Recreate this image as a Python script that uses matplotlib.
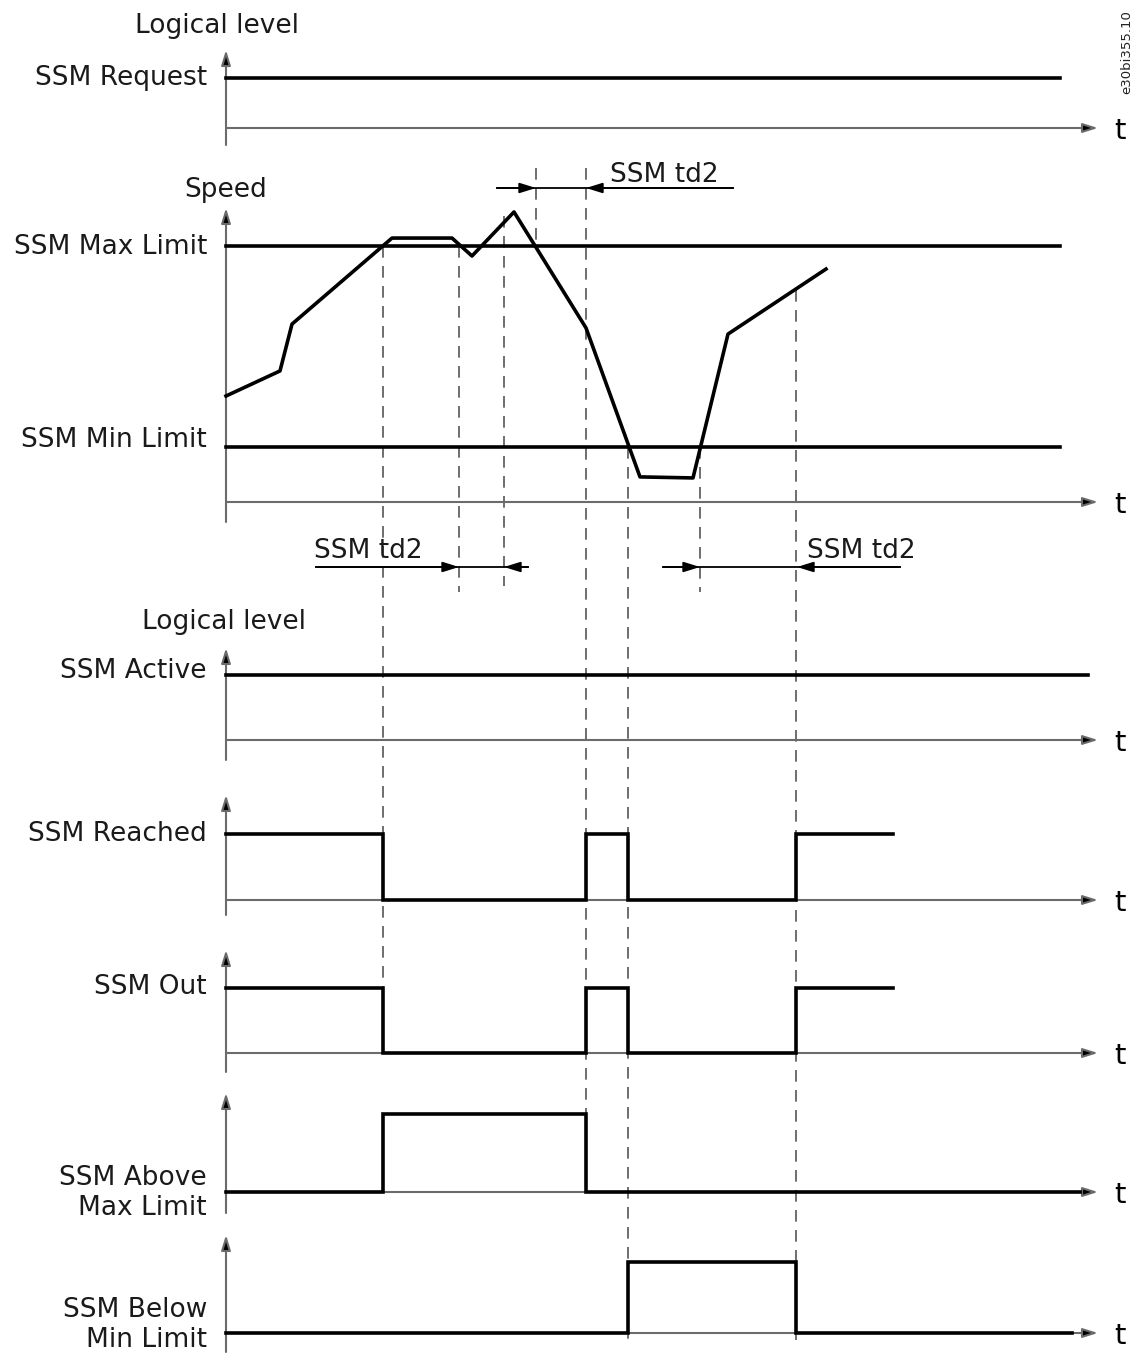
import numpy as np
import matplotlib
matplotlib.use("Agg")
import matplotlib.pyplot as plt

# ===== DATA =====
# time axis runs left->right, in drawing units (the diagram's own scale)
t_start = 226
t_end_axis = 1098

# speed profile (speed units: t-axis = 0, max limit = 100)
speed_t = [226, 280, 292, 392, 452, 472, 514, 586, 640, 693, 728, 826]
speed_v = [41.4, 51.2, 69.5, 103.1, 103.1, 96.1, 113.3, 68.0, 9.8, 9.4, 65.6, 91.0]
max_limit = 100.0
min_limit = 21.5

# logical signals as step edges (time, level after edge)
request_t = [226, 1060]
request_v = [1, 1]
active_t = [226, 1088]
active_v = [1, 1]
reached_t = [226, 383, 586, 628, 796, 893]
reached_v = [1, 0, 1, 0, 1, 1]
out_t = [226, 383, 586, 628, 796, 893]
out_v = [1, 0, 1, 0, 1, 1]
above_t = [226, 383, 586, 1080]
above_v = [0, 1, 0, 0]
below_t = [226, 628, 796, 1072]
below_v = [0, 1, 0, 0]

# event markers: (time, top, bottom)
dashed_marks = [(383, 246, 1050), (459, 246, 592), (504, 216, 586),
                (536, 168, 248), (586, 168, 1192), (628, 447, 1340),
                (700, 447, 592), (796, 290, 1340)]

# ===== STYLE =====
fontname = "DejaVu Sans"
fs = 19
axis_col = "#6b6b6b"
sig_lw = 2.6

fig = plt.figure(figsize=(11.4, 13.54), dpi=100)
ax = fig.add_axes([0, 0, 1, 1])
ax.set_xlim(0, 1140)
ax.set_ylim(1354, 0)
ax.axis("off")


def arrow(x0, y0, x1, y1, lw=1.5, col=axis_col, head=1.0, z=2):
    ax.annotate("", xy=(x1, y1), xytext=(x0, y0),
                arrowprops=dict(arrowstyle=f"-|>,head_length={0.9*head},head_width={0.28*head}",
                                color=col, lw=lw, shrinkA=0, shrinkB=0,
                                fc="black", ec=col), zorder=z)


def axes_frame(y_top, y_bot, y_t, label_t=True):
    arrow(t_start, y_bot, t_start, y_top)
    arrow(t_start, y_t, t_end_axis, y_t)
    if label_t:
        ax.text(1120, y_t + 3, "t", fontsize=fs + 2, ha="center", va="center", fontname=fontname)


def logic_panel(t, v, y_t, y_high, y_top, y_bot):
    axes_frame(y_top, y_bot, y_t)
    ys = [y_t - (y_t - y_high) * lv for lv in v]
    ax.step(t, ys, where="post", color="black", lw=sig_lw, solid_joinstyle="miter", zorder=5)


def lab(x, y, s, ha="right"):
    ax.text(x, y, s, fontsize=fs, ha=ha, va="center", fontname=fontname,
            color="#1a1a1a", linespacing=1.2)


# panel 1: SSM Request
lab(217, 26, "Logical level", ha="center")
logic_panel(request_t, request_v, 128, 78, 50, 145)
lab(207, 78, "SSM Request")

# panel 2: speed
y0_speed = 502
k_speed = (502 - 246) / max_limit
axes_frame(208, 522, y0_speed)
lab(226, 190, "Speed", ha="center")
ax.plot([t_start, 1060], [y0_speed - k_speed * max_limit] * 2, color="black", lw=sig_lw, zorder=5)
ax.plot([t_start, 1060], [y0_speed - k_speed * min_limit] * 2, color="black", lw=sig_lw, zorder=5)
ax.plot(speed_t, [y0_speed - k_speed * v for v in speed_v], color="black", lw=sig_lw, zorder=5)
lab(207, 247, "SSM Max Limit")
lab(207, 440, "SSM Min Limit")

# panel 3..7
lab(224, 622, "Logical level", ha="center")
logic_panel(active_t, active_v, 740, 675, 648, 760)
lab(207, 671, "SSM Active")
logic_panel(reached_t, reached_v, 900, 834, 795, 915)
lab(207, 834, "SSM Reached")
logic_panel(out_t, out_v, 1053, 988, 950, 1072)
lab(207, 987, "SSM Out")
logic_panel(above_t, above_v, 1192, 1114, 1093, 1213)
lab(207, 1193, "SSM Above\nMax Limit")
logic_panel(below_t, below_v, 1333, 1262, 1235, 1352)
lab(207, 1325, "SSM Below\nMin Limit")

# dashed event lines
for x, yt, yb in dashed_marks:
    ax.plot([x, x], [yt, yb], color="#555555", lw=1.2, dashes=(7, 5), zorder=1)

# td2 dimension arrows
dim_lw = 1.3
ax.plot([497, 733], [188, 188], color="black", lw=dim_lw)
arrow(497, 188, 536, 188, lw=dim_lw, col="black", head=1.1)
arrow(733, 188, 586, 188, lw=dim_lw, col="black", head=1.1)
lab(610, 175, "SSM td2", ha="left")

ax.plot([316, 528], [567, 567], color="black", lw=dim_lw)
arrow(316, 567, 459, 567, lw=dim_lw, col="black", head=1.1)
arrow(528, 567, 504, 567, lw=dim_lw, col="black", head=1.1)
lab(314, 551, "SSM td2", ha="left")

ax.plot([663, 900], [567, 567], color="black", lw=dim_lw)
arrow(663, 567, 700, 567, lw=dim_lw, col="black", head=1.1)
arrow(900, 567, 797, 567, lw=dim_lw, col="black", head=1.1)
lab(807, 551, "SSM td2", ha="left")

# drawing id
ax.text(1127, 52, "e30bi355.10", fontsize=9.5, rotation=90, ha="center", va="center",
        fontname=fontname, color="#222222")

fig.savefig("out.png", dpi=100)
